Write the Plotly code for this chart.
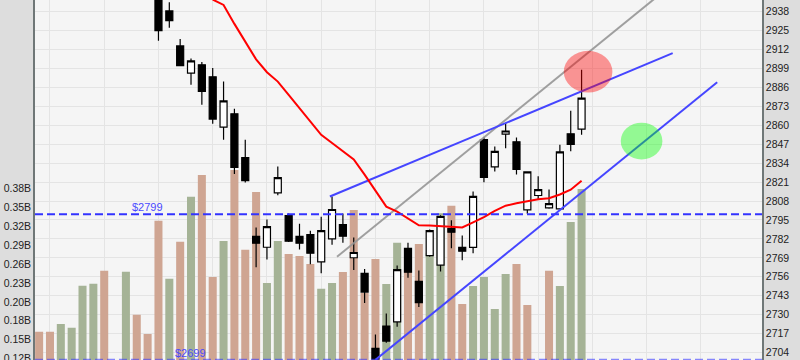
import plotly.graph_objects as go

# ---------------- data ----------------
candle_x = list(range(11, 51))
opens = [2955.0, 2938.5, 2914.5, 2895.8, 2901.5, 2893.3, 2858.8, 2867.9, 2837.8, 2783.7,
         2776.3, 2813.6, 2798.0, 2783.7, 2785.0, 2766.3, 2782.1, 2791.9, 2769.1, 2758.3,
         2706.9, 2722.2, 2725.0, 2775.5, 2752.8, 2770.6, 2764.0, 2789.1, 2776.2, 2776.2,
         2850.1, 2831.4, 2854.0, 2848.7, 2802.0, 2811.8, 2803.3, 2802.6, 2854.2, 2857.4]
highs = [2960.0, 2944.4, 2919.3, 2905.8, 2903.5, 2899.4, 2890.0, 2871.3, 2850.1, 2789.8,
         2795.3, 2831.8, 2799.4, 2792.5, 2787.7, 2797.3, 2811.1, 2799.4, 2782.9, 2761.3,
         2716.4, 2730.9, 2763.8, 2779.4, 2760.4, 2788.4, 2798.3, 2794.8, 2784.4, 2814.6,
         2852.0, 2845.5, 2861.6, 2851.7, 2828.0, 2825.0, 2815.9, 2846.7, 2870.0, 2898.1]
lows = [2918.1, 2927.0, 2900.5, 2887.8, 2874.1, 2861.1, 2850.1, 2826.6, 2820.7, 2762.6,
        2767.9, 2812.0, 2779.9, 2774.8, 2764.7, 2758.5, 2778.0, 2779.3, 2760.6, 2738.0,
        2699.0, 2710.8, 2721.8, 2755.4, 2735.2, 2769.8, 2759.7, 2775.6, 2767.4, 2772.2,
        2820.9, 2828.2, 2844.2, 2826.3, 2799.2, 2809.0, 2802.8, 2802.3, 2842.1, 2853.5]
closes = [2925.0, 2931.8, 2901.0, 2904.2, 2883.2, 2864.3, 2876.8, 2831.1, 2822.0, 2779.1,
          2790.5, 2824.1, 2780.4, 2779.1, 2772.2, 2787.7, 2802.2, 2783.9, 2772.7, 2745.5,
          2699.5, 2711.9, 2761.0, 2759.2, 2738.2, 2787.7, 2797.4, 2786.6, 2773.6, 2811.2,
          2824.3, 2842.1, 2856.1, 2829.8, 2828.0, 2815.9, 2806.3, 2841.7, 2846.9, 2878.7]

vol_x = list(range(0, 51))
volumes = [0.1586, 0.1586, 0.1703, 0.1647, 0.2289, 0.2319, 0.2518, 0.1000, 0.2503, 0.1846,
           0.1551, 0.3281, 0.2396, 0.2961, 0.3648, 0.3980, 0.2421, 0.2971, 0.4056, 0.2838,
           0.3719, 0.2330, 0.2971, 0.2773, 0.2742, 0.2620, 0.2243, 0.2330, 0.2498, 0.3445,
           0.2177, 0.2696, 0.2315, 0.2945, 0.2757, 0.2926, 0.2783, 0.3394, 0.3511, 0.2009,
           0.2284, 0.2421, 0.1933, 0.2467, 0.2620, 0.1994, 0.1000, 0.2518, 0.2284, 0.3261,
           0.3766]
vol_up = [0, 0, 1, 1, 1, 1, 0, 0, 1, 0, 0, 0, 1, 0, 1, 0, 0, 1, 0, 0, 0, 1, 1, 0, 0, 0,
          1, 1, 0, 0, 0, 0, 1, 1, 0, 0, 1, 1, 0, 0, 1, 1, 1, 1, 0, 0, 0, 0, 1, 1, 1]

ma_x = list(range(16, 51))
ma_vals = [2946.3, 2942.6, 2929.6, 2917.9, 2905.3, 2896.4, 2890.0, 2880.9, 2871.8, 2862.7,
           2853.5, 2847.8, 2842.2, 2836.5, 2826.1, 2815.2, 2804.2, 2800.7, 2795.9, 2791.4,
           2791.3, 2790.8, 2790.4, 2789.9, 2793.4, 2797.0, 2801.3, 2804.8, 2806.5, 2808.1,
           2809.3, 2809.9, 2812.5, 2815.8, 2822.0]

resist_x = [26.8, 58.4]
resist_y = [2811.1, 2909.5]
support_x = [31.0, 62.5]
support_y = [2699.0, 2889.5]
gray_x = [27.46, 62.0]
gray_y = [2769.8, 2978.8]

level_hi = 2799
level_lo = 2699

price_ticks = [2704, 2717, 2730, 2743, 2756, 2769, 2782, 2795, 2808, 2821, 2834, 2847,
               2860, 2873, 2886, 2899, 2912, 2925, 2938]
vol_ticks = [0.1175, 0.1464, 0.1753, 0.2042, 0.2331, 0.2620, 0.2909, 0.3198, 0.3487, 0.3776]
vol_tick_text = ["0.12B", "0.15B", "0.18B", "0.20B", "0.23B", "0.26B", "0.29B", "0.32B",
                 "0.35B", "0.38B"]
x_grid = [1, 6, 11, 16, 21, 26, 31, 36, 41, 46, 51, 56, 61]

# highlight ellipses: center x, center y, half-width (x units), half-height (price)
red_circle = (50.6, 2896.8, 2.24, 14.3)
green_circle = (55.53, 2849.2, 1.92, 12.6)

# ---------------- figure ----------------
UP_VOL = "#a5b396"
DN_VOL = "#cfa592"

fig = go.Figure()

fig.add_trace(go.Bar(
    x=vol_x, y=volumes, width=0.74,
    marker=dict(color=[UP_VOL if u else DN_VOL for u in vol_up], line=dict(width=0)),
    yaxis="y", hoverinfo="skip", showlegend=False))

fig.add_trace(go.Candlestick(
    x=candle_x, open=opens, high=highs, low=lows, close=closes,
    increasing=dict(fillcolor="#ffffff", line=dict(color="#000000", width=1.2)),
    decreasing=dict(fillcolor="#000000", line=dict(color="#000000", width=1.2)),
    whiskerwidth=0, yaxis="y2", showlegend=False))

fig.add_trace(go.Scatter(x=gray_x, y=gray_y, mode="lines", yaxis="y2",
                         line=dict(color="rgba(150,150,150,0.9)", width=2), showlegend=False))
fig.add_trace(go.Scatter(x=resist_x, y=resist_y, mode="lines", yaxis="y2",
                         line=dict(color="#4545ff", width=2), showlegend=False))
fig.add_trace(go.Scatter(x=support_x, y=support_y, mode="lines", yaxis="y2",
                         line=dict(color="#4545ff", width=2), showlegend=False))
fig.add_trace(go.Scatter(x=ma_x, y=ma_vals, mode="lines", yaxis="y2",
                         line=dict(color="#ff0000", width=2), showlegend=False))

shapes = []
for lvl, col in [(level_hi, "#3333ff"), (level_lo, "rgba(60,60,255,0.6)")]:
    shapes.append(dict(type="line", xref="paper", x0=0, x1=1, yref="y2", y0=lvl, y1=lvl,
                       line=dict(color=col, width=2, dash="8px,4px"), layer="above"))
for (cx, cy, rx, ry), col in [(red_circle, "rgba(255,0,0,0.4)"),
                               (green_circle, "rgba(0,255,0,0.4)")]:
    shapes.append(dict(type="circle", xref="x", yref="y2", x0=cx - rx, x1=cx + rx,
                       y0=cy - ry, y1=cy + ry, fillcolor=col, line=dict(width=0),
                       layer="above"))

annotations = [
    dict(x=8.35, y=level_hi, xref="x", yref="y2", text="$" + str(level_hi), showarrow=False,
         xanchor="left", yanchor="bottom", yshift=-1,
         font=dict(family="Liberation Sans", size=11, color="#4a4aff")),
    dict(x=12.33, y=level_lo, xref="x", yref="y2", text="$" + str(level_lo), showarrow=False,
         xanchor="left", yanchor="bottom", yshift=-1,
         font=dict(family="Liberation Sans", size=11, color="#4a4aff")),
]

fig.update_layout(
    width=800, height=360,
    margin=dict(l=35, r=38, t=0, b=0, autoexpand=False),
    paper_bgcolor="#dddddd", plot_bgcolor="#f5f5f5",
    font=dict(family="Liberation Sans", size=10.5, color="#222222"),
    boxgap=0.2, boxgroupgap=0.19,
    showlegend=False,
    shapes=shapes, annotations=annotations,
    xaxis=dict(range=[-0.38, 66.63], tickvals=x_grid, showticklabels=False, ticks="",
               showgrid=True, gridcolor="#e4e4e4", gridwidth=1, zeroline=False,
               rangeslider=dict(visible=False), showline=False, fixedrange=True,
               automargin=False),
    yaxis=dict(range=[0.1154, 0.6652], side="left", tickvals=vol_ticks, ticktext=vol_tick_text,
               showgrid=False, zeroline=False, ticks="", showline=True,
               linecolor="#6f7777", linewidth=1.5, automargin=False,
               ticklabeloverflow="allow"),
    yaxis2=dict(range=[2698.9, 2946.0], side="right", overlaying="y", tickvals=price_ticks,
                showgrid=True, gridcolor="#e4e4e4", gridwidth=1, zeroline=False, ticks="",
                showline=True, linecolor="#6f7777", linewidth=1.5, automargin=False,
                ticklabeloverflow="allow"),
)

fig.write_html("out.html", config={"displayModeBar": False},
               post_script="document.body.style.margin='0px';document.body.style.overflow='hidden';")
